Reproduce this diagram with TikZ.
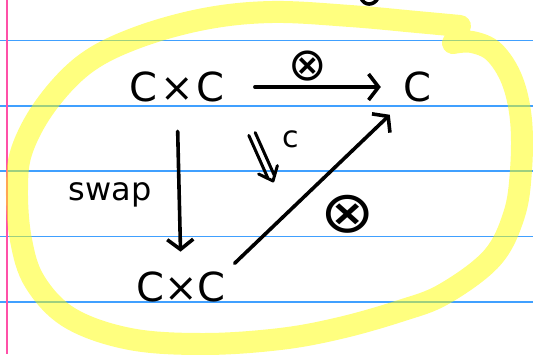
\documentclass[tikz,border=0pt]{standalone}
\usepackage{fontspec}
\setmainfont{DejaVu Sans}
\usetikzlibrary{arrows.meta,calc}

\definecolor{ruleblue}{RGB}{64,160,255}
\definecolor{marginpink}{RGB}{255,80,168}
\definecolor{hilite}{RGB}{255,255,0}

\begin{document}
\begin{tikzpicture}[x=1pt,y=-1pt,
  pen/.style={line width=3.6pt, line cap=round, line join=round},
  barb/.style={-{Straight Barb[length=10pt,width=26pt]}},
  obj/.style={inner sep=0pt, font=\fontsize{40}{40}\selectfont},
  lbl/.style={inner sep=0pt}]

% paper
\fill[white] (0,0) rectangle (533,354);
\useasboundingbox (0,0) rectangle (533,354);
\begin{scope}
\clip (0,0) rectangle (533,354);

% ruled lines and margin
\foreach \y in {40.5,106,171,236.5,302}
  \draw[ruleblue, line width=1.4pt] (0,\y) -- (533,\y);
\draw[marginpink, line width=2.2pt] (7,0) -- (7,354);

% highlighter loop
\draw[hilite, opacity=0.5, line width=22pt, line cap=round, line join=round]
  plot[smooth, tension=0.6] coordinates {
    (460,26) (417,22) (350,16) (272,12) (204,19) (136,38) (85,64)
    (46,105) (22,150) (17,190) (21,240) (35,282) (70,318) (130,339)
    (204,344) (280,339) (340,328) (400,311) (444,294) (492,258)
    (514,215) (521,170) (521,120) (512,80) (494,52) (472,42) (453,43)};

% pen stroke at the top edge
\draw[pen] (361,-2) .. controls (364,6) and (374,6) .. (378,-2);
\end{scope}

% objects
\node[obj] (top) at (177,87) {C\hspace{3pt}×\hspace{3pt}C};
\node[obj] (tgt) at (417,87) {C};
\node[obj] (bot) at (181,287) {C×C};

% labels
\node[lbl, font=\fontsize{46}{46}\selectfont] (tensA) at (308,66) {⊗};
\node[lbl, font=\fontsize{58}{58}\selectfont] (tensB) at (348,214) {\scalebox{1.12}[1]{⊗}};
\node[lbl, font=\fontsize{32}{32}\selectfont] (swp) at (110,195) {swap};
\node[lbl, font=\fontsize{30}{30}\selectfont] (cl) at (291,139) {c};

% arrows
\draw[pen, barb, shorten <=30pt, shorten >=22pt] (top.east) -- (tgt.west);
\draw[pen, barb, shorten <=29pt, shorten >=20pt] (top.south) -- (bot.north);
\draw[pen, barb, shorten <=12pt, shorten >=18pt] (bot.north east) -- (tgt.south west);

% double arrow (2-cell)
\coordinate (d1) at (252,134);
\coordinate (d2) at (273,181);
\draw[pen, line width=3pt] ($(d1)!3.5pt!90:(d2)$) -- ($(d2)!5pt!(d1)!3.5pt!90:(d2)$);
\draw[pen, line width=3pt] ($(d1)!3.5pt!-90:(d2)$) -- ($(d2)!5pt!(d1)!3.5pt!-90:(d2)$);
\draw[pen, line width=3pt] ($(d2)!16pt!40:(d1)$) -- (d2) -- ($(d2)!16pt!-40:(d1)$);
\end{tikzpicture}
\end{document}
